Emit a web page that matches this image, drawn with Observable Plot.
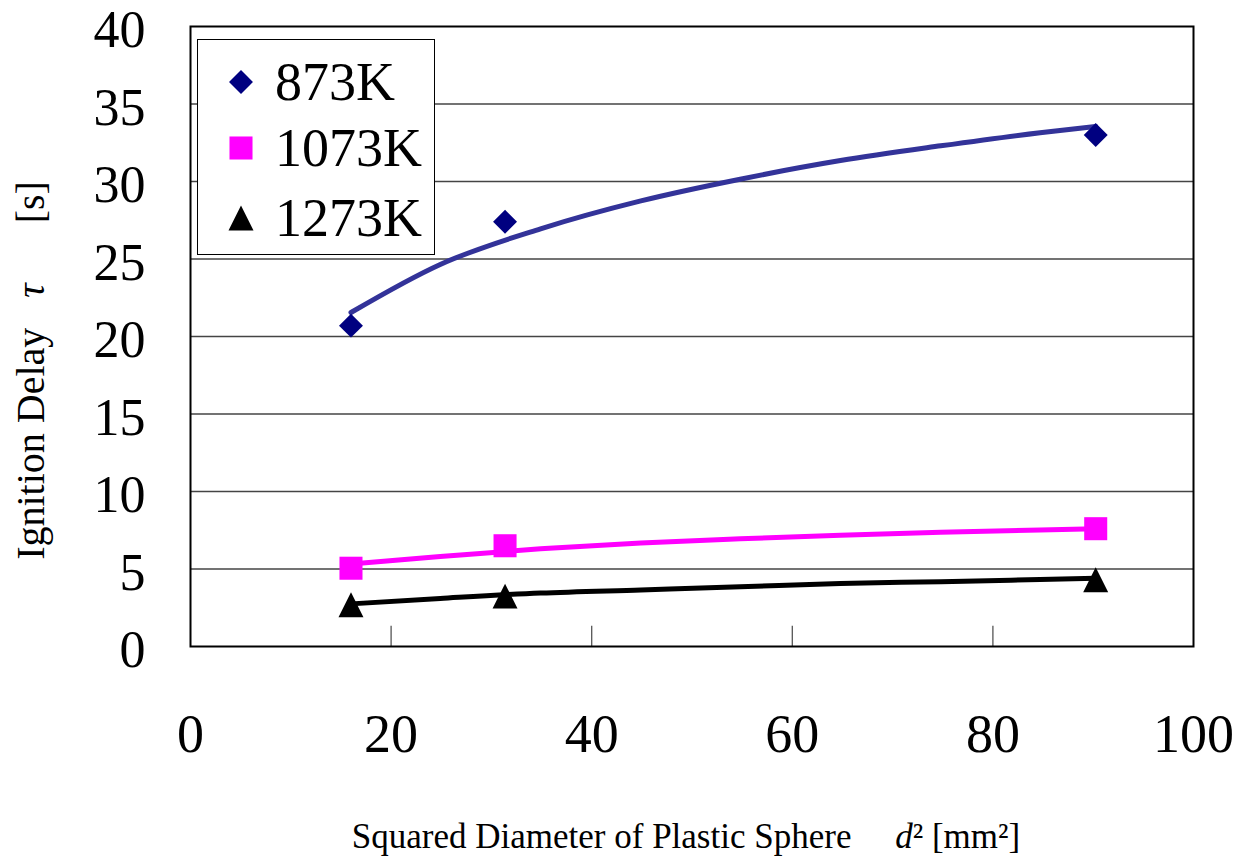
<!DOCTYPE html>
<html><head><meta charset="utf-8">
<script src="https://cdn.jsdelivr.net/npm/d3@7"></script>
<script src="https://cdn.jsdelivr.net/npm/@observablehq/plot@0.6"></script>
<style>
body{margin:0;background:#fff;}
#wrap{position:relative;width:1240px;height:858px;font-family:"Liberation Serif","Times New Roman",serif;}
#legend{position:absolute;left:197px;top:39px;width:238px;height:216px;box-sizing:border-box;border:1.5px solid #000;background:#fff;}
.row{position:absolute;left:0;height:60px;line-height:60px;font-size:54px;color:#000;white-space:nowrap;}
.row svg{position:absolute;left:28px;top:15px;}
.row span{position:absolute;left:77px;top:0;}
</style></head><body><div id="wrap"></div>
<script>
// data
const series = ["873K", "1073K", "1273K"];
const diameterSq = [16, 31.36, 90.25];
const delay873 = [20.7, 27.4, 33.0];
const delay1073 = [5.05, 6.5, 7.6];
const delay1273 = [2.7, 3.25, 4.3];
// fitted trend curves as drawn in the picture
const trendX = [16, 24.9, 34.9, 44.9, 54.8, 64.8, 74.8, 84.7, 90.25];
const trend873 = [21.55, 24.65, 26.95, 28.75, 30.15, 31.35, 32.3, 33.15, 33.55];
const trend1073 = [5.33, 5.8, 6.3, 6.68, 6.95, 7.18, 7.37, 7.52, 7.59];
const trend1273 = [2.75, 3.1, 3.45, 3.65, 3.85, 4.07, 4.18, 4.32, 4.4];
const xTicks = [0, 20, 40, 60, 80, 100];
const yTicks = [0, 5, 10, 15, 20, 25, 30, 35, 40];
const markerColors = ["#000080", "#FF00FF", "#000000"];
const lineColors = ["#333399", "#FF00FF", "#000000"];
const xTitle = "Squared Diameter of Plastic Sphere d² [mm²]";
const yTitle = "Ignition Delay τ [s]";

const delays = [delay873, delay1073, delay1273];
const trends = [trend873, trend1073, trend1273];

const diamondSym = {draw(ctx, size){const h = Math.sqrt(size)/2; ctx.moveTo(0,-h); ctx.lineTo(h,0); ctx.lineTo(0,h); ctx.lineTo(-h,0); ctx.closePath();}};
const squareSym = {draw(ctx, size){const h = Math.sqrt(size)/2; ctx.moveTo(-h,-h); ctx.lineTo(h,-h); ctx.lineTo(h,h); ctx.lineTo(-h,h); ctx.closePath();}};
const triSym = {draw(ctx, size){const h = Math.sqrt(size)/2; ctx.moveTo(0,-h); ctx.lineTo(h,h); ctx.lineTo(-h,h); ctx.closePath();}};
const symbols = [diamondSym, squareSym, triSym];
const radii = [13.5, 13, 14.1];

const lineMarks = series.map((s, i) => Plot.line(trendX.map((x, j) => ({x, y: trends[i][j]})), {
  x: "x", y: "y", stroke: lineColors[i], strokeWidth: 5, curve: "monotone-x"
}));
const dotMarks = series.map((s, i) => Plot.dot(diameterSq.map((x, j) => ({x, y: delays[i][j]})), {
  x: "x", y: "y", symbol: symbols[i], r: radii[i], fill: markerColors[i], stroke: "none"
}));

const chart = Plot.plot({
  width: 1240, height: 858,
  marginLeft: 190, marginRight: 47, marginTop: 26, marginBottom: 212,
  x: {domain: [0, 100]},
  y: {domain: [0, 40]},
  style: {fontFamily: "'Liberation Serif','Times New Roman',serif", background: "white", color: "black", overflow: "visible"},
  marks: [
    Plot.ruleY(yTicks.slice(1, -1), {stroke: "#444", strokeWidth: 1.3}),
    Plot.ruleX(xTicks.slice(1, -1), {y1: 0, y2: 1.3, stroke: "#555", strokeWidth: 1.3}),
    Plot.axisY({ticks: yTicks, tickSize: 0, tickPadding: 45, fontSize: 52, dy: 4, label: null, tickFormat: d => String(d)}),
    Plot.axisX({ticks: xTicks, tickSize: 0, tickPadding: 67, fontSize: 54, label: null, tickFormat: d => String(d)}),
    ...lineMarks,
    ...dotMarks,
    Plot.frame({stroke: "#000", strokeWidth: 2}),
    Plot.text([xTitle], {text: d => d, frameAnchor: "bottom", lineAnchor: "middle", textAnchor: "middle", dy: 190, dx: -6, fontSize: 35}),
    Plot.text([yTitle], {text: d => d, frameAnchor: "left", lineAnchor: "middle", textAnchor: "middle", dx: -159, dy: 34, rotate: -90, fontSize: 40})
  ]
});
document.getElementById("wrap").appendChild(chart);

// italic symbols in the axis titles
const NB = "\u00a0";
function rebuild(full, parts) {
  const t = Array.from(chart.querySelectorAll("text")).find(e => e.textContent === full);
  if (!t) return;
  t.textContent = "";
  for (const [txt, italic] of parts) {
    const ts = document.createElementNS("http://www.w3.org/2000/svg", "tspan");
    ts.textContent = txt;
    if (italic) ts.setAttribute("font-style", "italic");
    t.appendChild(ts);
  }
}
rebuild(xTitle, [["Squared Diameter of Plastic Sphere" + NB.repeat(5), false], ["d", true], ["² [mm²]", false]]);
rebuild(yTitle, [["Ignition Delay" + NB.repeat(3), false], ["τ", true], [NB.repeat(6) + "[s]", false]]);

// legend
const legend = document.createElement("div");
legend.id = "legend";
const rowCenters = [42, 108, 178];
series.forEach((s, i) => {
  const row = document.createElement("div");
  row.className = "row";
  row.style.top = (rowCenters[i] - 30) + "px";
  const sz = 30;
  const p = d3.path();
  const size = Math.PI * radii[i] * radii[i];
  symbols[i].draw(p, size);
  row.innerHTML = `<svg width="${sz}" height="${sz}" viewBox="${-sz/2} ${-sz/2} ${sz} ${sz}"><path d="${p.toString()}" fill="${markerColors[i]}"/></svg><span>${s}</span>`;
  legend.appendChild(row);
});
document.getElementById("wrap").appendChild(legend);
</script>
</body></html>
